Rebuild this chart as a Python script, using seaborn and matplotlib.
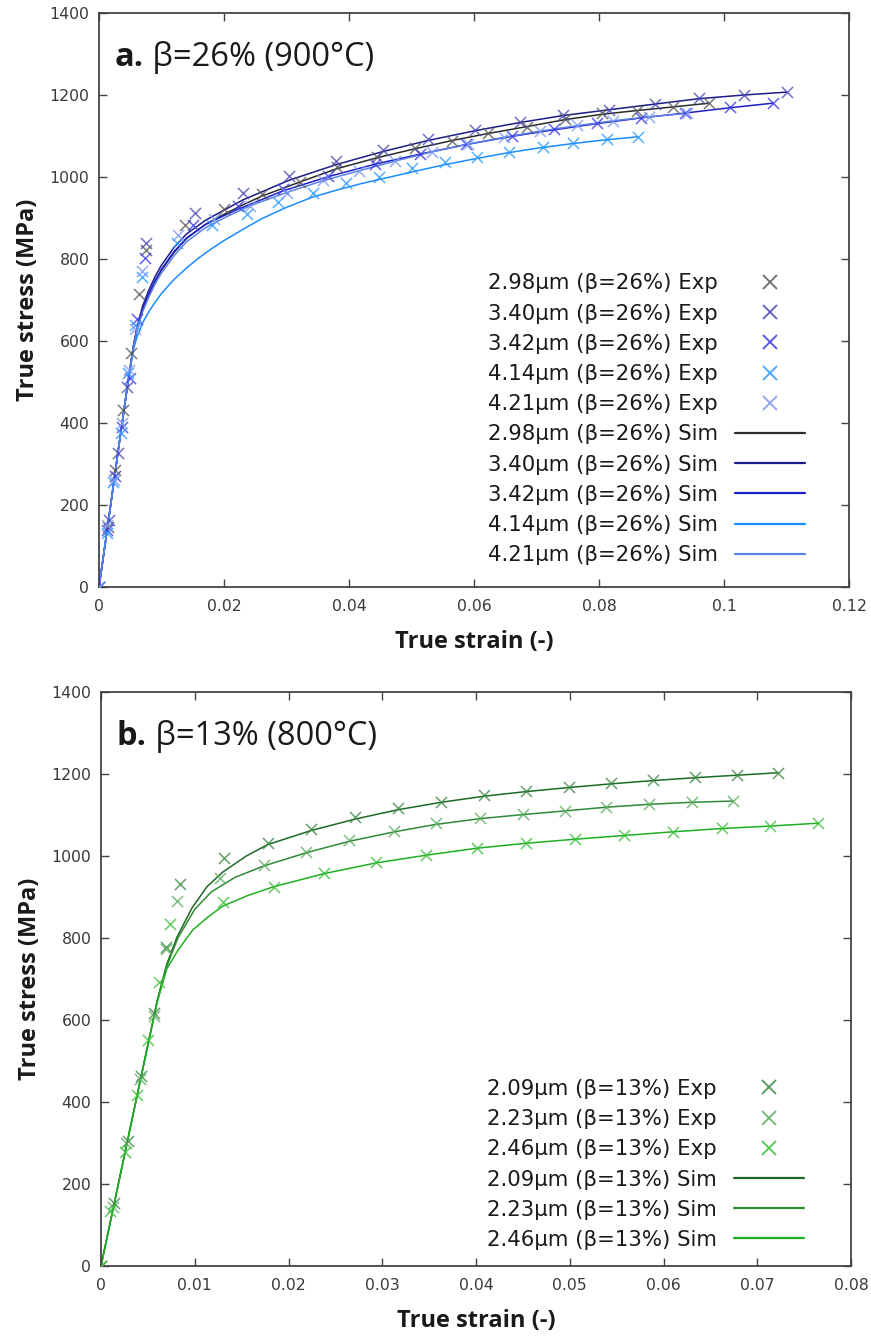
import matplotlib
matplotlib.use("Agg")
import matplotlib.pyplot as plt
from matplotlib.lines import Line2D
from matplotlib.ticker import FuncFormatter
import seaborn as sns

# ---------------- Panel a: beta = 26 % (900 C) ----------------
a_names = ["2.98μm (β=26%)", "3.40μm (β=26%)", "3.42μm (β=26%)",
           "4.14μm (β=26%)", "4.21μm (β=26%)"]

a_exp_298_x = [0, 0.0015, 0.0026, 0.0038, 0.0051, 0.0064, 0.0075, 0.0138, 0.020, 0.026, 0.0322,
               0.038, 0.0445, 0.0506, 0.0565, 0.0622, 0.0685, 0.0746, 0.0805, 0.086, 0.0919, 0.0976]
a_exp_298_y = [0, 146, 285, 432, 570, 714, 822, 883, 922, 959, 988,
               1024, 1049, 1071, 1088, 1107, 1122, 1141, 1156, 1161, 1171, 1180]

a_exp_340_x = [0, 0.0016, 0.003, 0.0045, 0.0075, 0.0154, 0.023, 0.0304, 0.0379, 0.0454, 0.0526,
               0.0602, 0.0674, 0.0743, 0.0816, 0.089, 0.096, 0.1032, 0.110]
a_exp_340_y = [0, 163, 327, 488, 838, 912, 961, 1002, 1039, 1066, 1093,
               1115, 1134, 1151, 1163, 1178, 1192, 1200, 1207]

a_exp_342_x = [0, 0.0013, 0.0025, 0.0037, 0.0049, 0.006, 0.0074, 0.015, 0.0222, 0.0294, 0.0367,
               0.0441, 0.0514, 0.0587, 0.066, 0.0728, 0.0796, 0.0867, 0.0938, 0.101, 0.1078]
a_exp_342_y = [0, 140, 270, 390, 510, 653, 802, 883, 929, 970, 1003,
               1032, 1057, 1080, 1100, 1116, 1131, 1145, 1157, 1170, 1180]

a_exp_414_x = [0, 0.0013, 0.0023, 0.0035, 0.0047, 0.0058, 0.0068, 0.0125, 0.018, 0.0236, 0.0287,
               0.0342, 0.0395, 0.0448, 0.0501, 0.0554, 0.0605, 0.0656, 0.071, 0.0759, 0.0813, 0.0862]
a_exp_414_y = [0, 132, 256, 375, 522, 640, 757, 838, 883, 910, 940,
               960, 985, 1000, 1022, 1037, 1049, 1061, 1073, 1083, 1093, 1098]

a_exp_421_x = [0, 0.0012, 0.0024, 0.0036, 0.0048, 0.0058, 0.0069, 0.0126, 0.0184, 0.0242, 0.030,
               0.0358, 0.0416, 0.0474, 0.0532, 0.059, 0.0648, 0.0706, 0.0764, 0.0822, 0.088, 0.094]
a_exp_421_y = [0, 150, 262, 400, 530, 630, 770, 858, 897, 930, 962,
               992, 1015, 1040, 1062, 1081, 1098, 1113, 1126, 1137, 1147, 1155]

a_sim_298_x = [0, 0.0015, 0.003, 0.0045, 0.0055, 0.0062, 0.007, 0.008, 0.009, 0.010, 0.012, 0.014,
               0.017, 0.020, 0.023, 0.026, 0.032, 0.038, 0.0445, 0.0506, 0.0565, 0.0622, 0.0685,
               0.0746, 0.0805, 0.086, 0.0919, 0.0976]
a_sim_298_y = [0, 160, 325, 485, 585, 636, 677, 713, 746, 773, 816, 850,
               884, 909, 932, 953, 987, 1020, 1047, 1069, 1089, 1106, 1123,
               1140, 1153, 1162, 1171, 1180]

a_sim_340_x = [0, 0.0015, 0.003, 0.0045, 0.0055, 0.0062, 0.007, 0.008, 0.009, 0.010, 0.012, 0.014,
               0.017, 0.020, 0.023, 0.0304, 0.0379, 0.0454, 0.0526, 0.0602, 0.0674, 0.0743,
               0.0816, 0.089, 0.096, 0.1032, 0.110]
a_sim_340_y = [0, 160, 325, 485, 588, 641, 686, 725, 758, 785, 828, 861,
               894, 919, 944, 992, 1030, 1062, 1089, 1113, 1133, 1150,
               1164, 1178, 1191, 1200, 1207]

a_sim_342_x = [0, 0.0015, 0.003, 0.0045, 0.0055, 0.0062, 0.007, 0.008, 0.009, 0.010, 0.012, 0.014,
               0.017, 0.020, 0.0222, 0.0294, 0.0367, 0.0441, 0.0514, 0.0587, 0.066, 0.0728,
               0.0796, 0.0867, 0.0938, 0.101, 0.1078]
a_sim_342_y = [0, 160, 325, 485, 587, 637, 679, 716, 748, 775, 818, 851,
               884, 906, 921, 966, 1001, 1031, 1056, 1079, 1099, 1115,
               1130, 1144, 1156, 1169, 1180]

a_sim_414_x = [0, 0.0015, 0.003, 0.0045, 0.0055, 0.0062, 0.007, 0.008, 0.009, 0.010, 0.012, 0.014,
               0.016, 0.018, 0.020, 0.023, 0.026, 0.030, 0.034, 0.038, 0.042, 0.046, 0.050,
               0.055, 0.060, 0.065, 0.070, 0.075, 0.080, 0.0862]
a_sim_414_y = [0, 160, 325, 485, 580, 615, 645, 672, 695, 716, 750, 778,
               803, 825, 845, 872, 898, 926, 950, 968, 984, 998, 1012,
               1029, 1044, 1058, 1070, 1080, 1089, 1098]

a_sim_421_x = [0, 0.0015, 0.003, 0.0045, 0.0055, 0.0062, 0.007, 0.008, 0.009, 0.010, 0.012, 0.014,
               0.017, 0.020, 0.0242, 0.030, 0.0358, 0.0416, 0.0474, 0.0532, 0.059, 0.0648,
               0.0706, 0.0764, 0.0822, 0.088, 0.094]
a_sim_421_y = [0, 160, 325, 485, 586, 634, 672, 708, 740, 766, 808, 842,
               876, 900, 930, 962, 991, 1015, 1039, 1061, 1080, 1097,
               1112, 1125, 1137, 1147, 1155]

a_exp_colors = ["#5a5a5a", "#4b4bb4", "#3c3ce6", "#2e9bff", "#7b9af0"]
a_sim_colors = ["#2b2b2b", "#1c1c8a", "#1e1ec8", "#1a8cff", "#5c82e6"]

# ---------------- Panel b: beta = 13 % (800 C) ----------------
b_names = ["2.09μm (β=13%)", "2.23μm (β=13%)", "2.46μm (β=13%)"]

b_exp_209_x = [0, 0.0014, 0.0029, 0.0043, 0.0057, 0.0069, 0.0084, 0.0131, 0.0178, 0.0224, 0.0271,
               0.0317, 0.0363, 0.0409, 0.0453, 0.0499, 0.0544, 0.0589, 0.0634, 0.0678, 0.0722]
b_exp_209_y = [0, 153, 305, 463, 617, 778, 932, 995, 1032, 1065, 1095,
               1117, 1132, 1149, 1159, 1168, 1178, 1185, 1193, 1198, 1203]

b_exp_223_x = [0, 0.0013, 0.0027, 0.0042, 0.0056, 0.0069, 0.0081, 0.0127, 0.0174, 0.0219, 0.0265,
               0.0313, 0.0357, 0.0404, 0.045, 0.0495, 0.0539, 0.0584, 0.063, 0.0674]
b_exp_223_y = [0, 145, 300, 455, 610, 772, 890, 946, 978, 1010, 1039,
               1061, 1080, 1093, 1102, 1110, 1120, 1127, 1132, 1134]

b_exp_246_x = [0, 0.001, 0.0026, 0.0038, 0.005, 0.0062, 0.0074, 0.013, 0.0184, 0.0238, 0.0293,
               0.0347, 0.0401, 0.0453, 0.0506, 0.0558, 0.061, 0.0662, 0.0714, 0.0765]
b_exp_246_y = [0, 135, 278, 417, 551, 693, 834, 888, 925, 958, 985,
               1002, 1020, 1032, 1041, 1051, 1059, 1068, 1073, 1080]

b_sim_209_x = [0, 0.002, 0.004, 0.006, 0.007, 0.0081, 0.0097, 0.0113, 0.013, 0.0155, 0.0178,
               0.0224, 0.0271, 0.0317, 0.0363, 0.0409, 0.0453, 0.0499, 0.0544, 0.0589, 0.0634,
               0.0678, 0.0722]
b_sim_209_y = [0, 216, 432, 648, 735, 802, 873, 925, 961, 1000, 1028,
               1062, 1090, 1113, 1131, 1146, 1157, 1167, 1176, 1184, 1191,
               1197, 1203]

b_sim_223_x = [0, 0.002, 0.004, 0.006, 0.007, 0.0082, 0.010, 0.0118, 0.0143, 0.0174, 0.0219,
               0.0265, 0.0313, 0.0357, 0.0404, 0.045, 0.0495, 0.0539, 0.0584, 0.063, 0.0674]
b_sim_223_y = [0, 216, 432, 646, 730, 800, 870, 913, 948, 976, 1008,
               1036, 1059, 1077, 1091, 1101, 1110, 1119, 1126, 1131, 1134]

b_sim_246_x = [0, 0.002, 0.004, 0.006, 0.007, 0.0082, 0.0098, 0.0114, 0.013, 0.0156, 0.0184,
               0.0238, 0.0293, 0.0347, 0.0401, 0.0453, 0.0506, 0.0558, 0.061, 0.0662, 0.0714,
               0.0765]
b_sim_246_y = [0, 216, 432, 644, 724, 770, 820, 851, 878, 903, 925,
               957, 983, 1002, 1019, 1031, 1041, 1050, 1059, 1067, 1073,
               1080]

b_exp_colors = ["#3f8a47", "#5fae63", "#3cc23c"]
b_sim_colors = ["#1d6a26", "#2f8a36", "#1fae22"]

a_xticks = [0, 0.02, 0.04, 0.06, 0.08, 0.1, 0.12]
b_xticks = [0, 0.01, 0.02, 0.03, 0.04, 0.05, 0.06, 0.07, 0.08]
y_ticks = [0, 200, 400, 600, 800, 1000, 1200, 1400]

# ---------------- style ----------------
sns.set_style("ticks")
plt.rcParams['font.family'] = ['Open Sans', 'DejaVu Sans']
SANS = ['DejaVu Sans']
TEXT = "#1a1a1a"
AXC = "#444444"

fig = plt.figure(figsize=(8.71, 13.37), dpi=100)
W, H = 871.0, 1337.0
ax_a = fig.add_axes([99 / W, 1 - 587 / H, 750 / W, 574 / H])
ax_b = fig.add_axes([101 / W, 1 - 1266 / H, 750 / W, 574 / H])


def draw_panel(ax, exp_sets, sim_sets, names, exp_colors, sim_colors,
               xticks, letter, title, leg_anchor):
    for (sx, sy), c in zip(exp_sets, exp_colors):
        sns.scatterplot(x=sx, y=sy, ax=ax, marker="x", s=64, color=c,
                        linewidth=1.1, alpha=0.8, zorder=3, legend=False)
    for (sx, sy), c in zip(sim_sets, sim_colors):
        sns.lineplot(x=sx, y=sy, ax=ax, color=c, lw=1.1, sort=False,
                     estimator=None, zorder=2, legend=False)

    ax.set_xlim(xticks[0], xticks[-1])
    ax.set_ylim(0, 1400)
    ax.set_xticks(xticks)
    ax.set_yticks(y_ticks)
    ax.xaxis.set_major_formatter(FuncFormatter(lambda v, p: f"{v:g}"))
    ax.tick_params(direction="in", length=6, width=1.0, top=True, right=True,
                   labelsize=11.3, color=AXC, labelcolor="#3a3a3a")
    ax.tick_params(axis="x", pad=9)
    ax.tick_params(axis="y", pad=7)
    for lab in ax.get_xticklabels() + ax.get_yticklabels():
        lab.set_family(SANS)
    for sp in ax.spines.values():
        sp.set_color(AXC)
        sp.set_linewidth(1.3)
        sp.set_visible(True)

    ax.set_xlabel("True strain (-)", fontsize=17, fontweight="bold", color=TEXT,
                  va="center")
    ax.set_ylabel("True stress (MPa)", fontsize=17, fontweight="bold", color=TEXT,
                  va="center")
    ax.xaxis.set_label_coords(0.5, -0.096)
    ax.yaxis.set_label_coords(-0.095, 0.5)

    t = ax.text(0.021, 0.907, letter, transform=ax.transAxes, fontsize=23.5,
                fontweight="bold", color=TEXT, va="baseline", ha="left")
    ax.annotate(title, xy=(1, 0), xycoords=t, fontsize=23.5, color=TEXT,
                va="bottom", ha="left")

    handles = []
    labels = []
    for n, c in zip(names, exp_colors):
        handles.append(Line2D([], [], ls="none", marker="x", markersize=9.5,
                              mew=1.4, color=c, alpha=0.85))
        labels.append(f"{n} Exp")
    for n, c in zip(names, sim_colors):
        handles.append(Line2D([], [], color=c, lw=1.6))
        labels.append(f"{n} Sim")
    leg = ax.legend(handles, labels, loc="lower right", bbox_to_anchor=leg_anchor,
                    frameon=False, markerfirst=False, handlelength=3.3,
                    handletextpad=0.8, labelspacing=0.48,
                    prop={"family": SANS, "size": 15.3},
                    borderpad=0, borderaxespad=0)
    for txt in leg.get_texts():
        txt.set_color(TEXT)


draw_panel(ax_a,
           [(a_exp_298_x, a_exp_298_y), (a_exp_340_x, a_exp_340_y), (a_exp_342_x, a_exp_342_y),
            (a_exp_414_x, a_exp_414_y), (a_exp_421_x, a_exp_421_y)],
           [(a_sim_298_x, a_sim_298_y), (a_sim_340_x, a_sim_340_y), (a_sim_342_x, a_sim_342_y),
            (a_sim_414_x, a_sim_414_y), (a_sim_421_x, a_sim_421_y)],
           a_names, a_exp_colors, a_sim_colors, a_xticks,
           "a.", " β=26% (900°C)", (0.9413, 0.038))

draw_panel(ax_b,
           [(b_exp_209_x, b_exp_209_y), (b_exp_223_x, b_exp_223_y), (b_exp_246_x, b_exp_246_y)],
           [(b_sim_209_x, b_sim_209_y), (b_sim_223_x, b_sim_223_y), (b_sim_246_x, b_sim_246_y)],
           b_names, b_exp_colors, b_sim_colors, b_xticks,
           "b.", " β=13% (800°C)", (0.937, 0.028))

fig.savefig("out.png", dpi=100, facecolor="white")
